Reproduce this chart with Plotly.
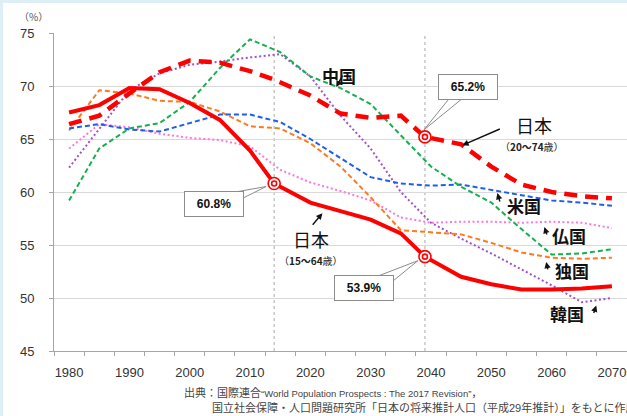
import plotly.graph_objects as go

# ---- data (working-age population share, %) ----
years = list(range(1980, 2071, 5))
jp_years = [1980, 1985, 1990, 1995, 2000, 2005, 2010, 2014, 2020, 2025,
            2030, 2035, 2039, 2045, 2050, 2055, 2060, 2065, 2070]

japan_15_64 = [67.5, 68.2, 69.8, 69.7, 68.4, 66.8, 63.9, 60.8, 59.0, 58.2,
               57.4, 56.1, 53.9, 52.0, 51.3, 50.8, 50.8, 50.9, 51.1]
japan_20_74 = [66.4, 67.2, 69.3, 71.3, 72.4, 72.2, 71.4, 70.6, 69.1, 67.4,
               67.0, 67.2, 65.2, 64.5, 62.4, 60.7, 60.0, 59.6, 59.4]
china = [59.2, 64.1, 66.0, 66.5, 68.5, 71.7, 74.4, 73.2, 70.9, 69.8,
         68.3, 65.3, 62.4, 60.5, 59.0, 56.5, 54.1, 54.2, 54.6]
usa = [66.0, 66.4, 65.9, 65.7, 66.5, 67.3, 67.3, 66.6, 65.0, 63.2,
       61.4, 60.8, 60.6, 60.7, 60.2, 59.7, 59.2, 59.0, 58.7]
germany = [65.8, 69.6, 69.3, 68.6, 68.5, 67.6, 66.2, 66.0, 64.6, 62.4,
           59.5, 56.4, 56.2, 56.0, 55.2, 54.3, 53.8, 53.7, 53.8]
france = [64.1, 66.4, 66.1, 65.5, 65.1, 64.9, 64.3, 62.1, 60.9, 60.1,
          59.2, 57.6, 57.1, 57.2, 57.2, 57.1, 57.2, 57.1, 56.6]
korea = [62.3, 65.9, 69.6, 71.2, 72.0, 72.3, 72.7, 73.0, 70.9, 67.2,
         64.1, 60.0, 57.1, 55.6, 54.2, 52.7, 51.2, 49.6, 50.0]

x_ticks = list(range(1980, 2071, 10))
y_ticks = [45, 50, 55, 60, 65, 70, 75]

# indices of the highlighted points in the Japan series
idx_now, idx_2040 = 7, 12

JP_FONT = "Noto Sans CJK JP"
TICK_FONT = "Liberation Sans"
NOTE_FONT = "Liberation Sans, Noto Sans CJK JP"

fig = go.Figure()

# white card over a light blue page edge (added first so guides sit on top)
fig.add_shape(type="rect", xref="paper", yref="paper", x0=-0.089, x1=1.01,
              y0=-0.25, y1=1.094, fillcolor="white", line=dict(width=0),
              layer="below")


def add_line(x, y, color, width, dash, name):
    fig.add_trace(go.Scatter(x=x, y=y, mode="lines", name=name,
                             line=dict(color=color, width=width, dash=dash),
                             hoverinfo="skip"))


add_line(years, korea, "#A24FCC", 2, "2px,2.5px", "韓国")
add_line(years, france, "#FF77DD", 2, "2px,2.5px", "仏国")
add_line(years, germany, "#FF7A1E", 2, "5px,3px", "独国")
add_line(years, usa, "#1F5FE8", 2, "5px,3px", "米国")
add_line(years, china, "#16B050", 2, "5px,3px", "中国")
add_line(jp_years, japan_15_64, "#FF0000", 4, "solid", "日本(15~64歳)")
add_line(jp_years, japan_20_74, "#FF0000", 4.5, "13px,8px", "日本(20~74歳)")

# double-ring markers on the highlighted points
mk_x = [jp_years[idx_now], jp_years[idx_2040], jp_years[idx_2040]]
mk_y = [japan_15_64[idx_now], japan_15_64[idx_2040], japan_20_74[idx_2040]]
fig.add_trace(go.Scatter(x=mk_x, y=mk_y, mode="markers", hoverinfo="skip",
                         marker=dict(size=12, color="white",
                                     line=dict(color="#FF0000", width=1.6))))
fig.add_trace(go.Scatter(x=mk_x, y=mk_y, mode="markers", hoverinfo="skip",
                         marker=dict(size=5, color="white",
                                     line=dict(color="#FF0000", width=1.6))))

# vertical guide lines through the highlighted years
for xv in (jp_years[idx_now], jp_years[idx_2040]):
    fig.add_shape(type="line", xref="x", yref="paper", x0=xv, x1=xv, y0=0, y1=1,
                  line=dict(color="#AAAAAA", width=1, dash="dot"), layer="below")

# callout boxes with a pointer wedge
callouts = [
    # x, y, box offset (px), wedge points relative to the point (px, up positive)
    (jp_years[idx_now], japan_15_64[idx_now], -60, 20,
     [(-36, -8), (-30, -14), (-8, -3)]),
    (jp_years[idx_2040], japan_15_64[idx_2040], -61, 31,
     [(-46, -19), (-34, -26), (-7, -4)]),
    (jp_years[idx_2040], japan_20_74[idx_2040], 43, -50,
     [(24, 38), (37, 38), (-1, 7)]),
]
for cx, cy, ax, ay, wedge in callouts:
    path = "M{},{} L{},{} L{},{} Z".format(*[c for p in wedge for c in p])
    fig.add_shape(type="path", xref="x", yref="y", xsizemode="pixel",
                  ysizemode="pixel", xanchor=cx, yanchor=cy, path=path,
                  fillcolor="white", line=dict(color="#8C8C8C", width=1))
    fig.add_annotation(x=cx, y=cy, ax=ax, ay=ay, showarrow=True,
                       arrowcolor="rgba(0,0,0,0)", arrowwidth=0.1,
                       text="<b>{:.1f}%</b>".format(cy),
                       font=dict(family=TICK_FONT, size=12, color="#111111"),
                       bgcolor="white", bordercolor="#8C8C8C", borderwidth=1,
                       borderpad=5, width=48, height=14)

# country labels
labels = [
    ("<b>中国</b>", 2024.8, 71.0, 17),
    ("日本", 2057.1, 66.3, 18),
    ("日本", 2020.1, 55.55, 18),
    ("<b>米国</b>", 2055.5, 58.7, 17),
    ("<b>仏国</b>", 2062.9, 55.85, 17),
    ("<b>独国</b>", 2063.4, 52.55, 17),
    ("<b>韓国</b>", 2062.6, 48.5, 17),
]
for txt, lx, ly, sz in labels:
    fig.add_annotation(x=lx, y=ly, text=txt, showarrow=False, borderpad=0,
                       font=dict(family=JP_FONT, size=sz, color="#111111"))

subs = [("（<b>20～74</b>歳）", 2056.8, 64.25), ("（<b>15～64</b>歳）", 2020.1, 53.5)]
for txt, lx, ly in subs:
    fig.add_annotation(x=lx, y=ly, text=txt, showarrow=False, borderpad=0,
                       font=dict(family=JP_FONT, size=10, color="#222222"))

# small black pointer arrows
arrows = [
    (2024.3, 69.9, 7, -13),
    (2045.2, 64.4, 39, -17),
    (2022.0, 58.0, -11, 13),
    (2051.0, 59.9, 3, 10),
    (2058.8, 56.7, 3, 9),
    (2059.1, 53.4, 2, 9),
    (2067.4, 49.3, -3, 9),
]
for tx, ty, ax, ay in arrows:
    fig.add_annotation(x=tx, y=ty, ax=ax, ay=ay, text="", showarrow=True,
                       arrowhead=2, arrowsize=0.9, arrowwidth=1.4,
                       arrowcolor="#111111")

# unit label and source note
fig.add_annotation(xref="paper", yref="paper", x=-0.035, y=1.053, text="（%）",
                   xanchor="center", yanchor="middle", showarrow=False,
                   font=dict(family=JP_FONT, size=10, color="#555555"))
fig.add_annotation(xref="paper", yref="paper", x=0.2234, y=-0.132,
                   xanchor="left", yanchor="middle", showarrow=False,
                   text="出典：国際連合<span style='font-size:9.5px'>“World Population Prospects : The 2017 Revision”</span>，",
                   font=dict(family=NOTE_FONT, size=11, color="#444444"))
fig.add_annotation(xref="paper", yref="paper", x=0.272, y=-0.179,
                   xanchor="left", yanchor="middle", showarrow=False,
                   text="国立社会保障・人口問題研究所「日本の将来推計人口（平成29年推計）」をもとに作成",
                   font=dict(family=NOTE_FONT, size=11, color="#444444"))

fig.update_layout(
    width=627, height=416,
    margin=dict(l=54, r=0, t=33, b=65),
    paper_bgcolor="#DDEEF6", plot_bgcolor="rgba(0,0,0,0)",
    showlegend=False,
    xaxis=dict(range=[1977.5, 2072.5], tickvals=x_ticks, ticks="",
               showgrid=False, zeroline=False, showline=True,
               linecolor="#A6A6A6", linewidth=1, ticklabelstandoff=9,
               tickfont=dict(family=TICK_FONT, size=13, color="#333333"),
               minor=dict(tick0=1977.5, dtick=5, ticks="outside", ticklen=4,
                          tickcolor="#A6A6A6", showgrid=False)),
    yaxis=dict(range=[45, 75], tickvals=y_ticks, ticks="outside", ticklen=4,
               tickcolor="#A6A6A6", showgrid=True, gridcolor="#D9D9D9",
               zeroline=False, showline=True, linecolor="#A6A6A6", linewidth=1,
               ticklabelstandoff=12,
               tickfont=dict(family=TICK_FONT, size=13, color="#333333")),
)

fig.write_html("out.html")
